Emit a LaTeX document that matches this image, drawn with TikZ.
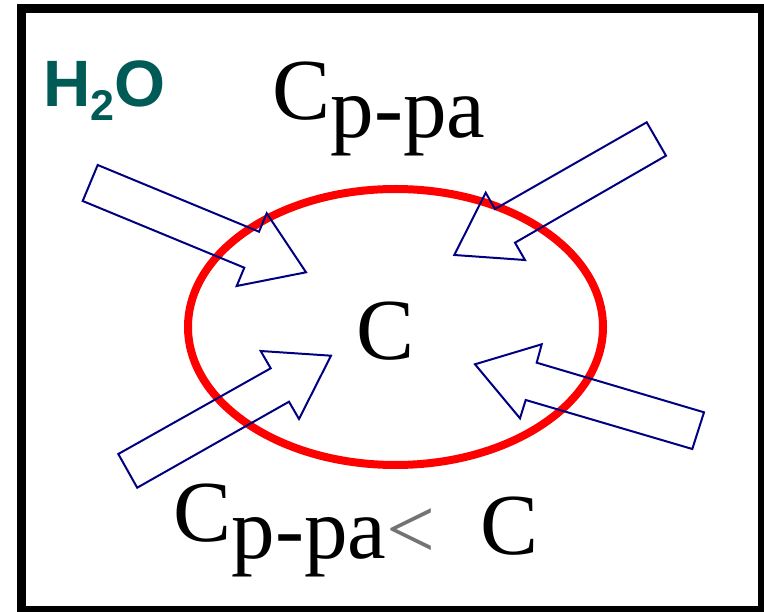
\documentclass[tikz,border=0pt]{standalone}
\usepackage{fontspec}
\setmainfont{Liberation Serif}
\newfontfamily\labelsans{Liberation Sans}
\definecolor{waterteal}{HTML}{005B57}
\definecolor{arrownavy}{HTML}{000080}

\begin{document}
\begin{tikzpicture}[
        x=1pt,y=-1pt,
        rim/.style={draw=red,line width=8pt},
        inflow/.style={draw=arrownavy,line width=2pt,line join=miter},
        chem/.style={inner sep=0pt,anchor=base west,font=\fontsize{87}{90}\selectfont}
      ]
        \useasboundingbox (0,0) rectangle (764,612);
        \draw[line width=9pt] (21.5,8.5) rectangle (762.5,610.5);

        \node[inner sep=0pt,anchor=base west,text=waterteal,
          font=\labelsans\bfseries\fontsize{65.6}{70}\selectfont]
          (water) at (43,107) {H\raisebox{-14pt}{\fontsize{43}{45}\selectfont 2}O};

        \node[chem] (outside) at (272.5,120) {C\raisebox{-18pt}{p-pa}};
        \node[chem] (inside) at (356,360) {C};
        \node[chem] (relation) at (173.5,542)
          {C\raisebox{-17pt}{p-pa\textcolor{black!55}{<}\hspace{45pt}\raisebox{4pt}{C}}};

        \draw[rim] (395.5,327) ellipse [x radius=207.5,y radius=138];

        \draw[inflow] (97.7,165) -- (259,231.7) -- (266.7,213.3) -- (306,272.3)
          -- (236.7,286) -- (244.3,267.7) -- (82.7,201) -- cycle;
        \draw[inflow] (646.7,122.3) -- (495,209) -- (485.7,192.7) -- (454.3,255)
          -- (525,260) -- (515,242.7) -- (666,155.7) -- cycle;
        \draw[inflow] (118.3,454) -- (270.7,368.3) -- (260.7,351) -- (331,355.7)
          -- (299,419) -- (289,401.7) -- (137.2,487.7) -- cycle;
        \draw[inflow] (704,412.3) -- (536.7,362.7) -- (541.7,344.3) -- (475,364.3)
          -- (520,418.3) -- (525.7,400) -- (692.3,449) -- cycle;
      \end{tikzpicture}
\end{document}
